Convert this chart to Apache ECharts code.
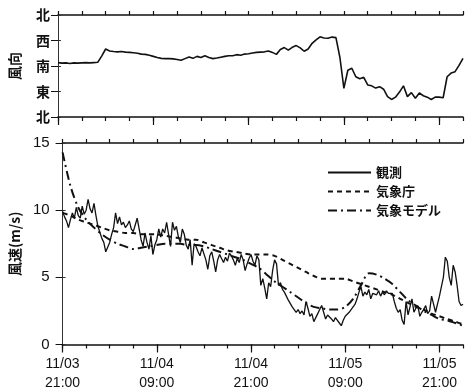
<!DOCTYPE html>
<html><head><meta charset="utf-8">
<script src="https://cdn.jsdelivr.net/npm/echarts@6/dist/echarts.min.js"></script>
<style>html,body{margin:0;padding:0;background:#fff}#c{width:468px;height:390px}</style>
</head><body><div id="c"></div>
<script>
// time axis: hours since 11/03 21:00
const xTickDates = {0:'11/03', 12:'11/04', 24:'11/04', 36:'11/05', 48:'11/05'};
const xTickTimes = {0:'21:00', 12:'09:00', 24:'21:00', 36:'09:00', 48:'21:00'};
const dirLabels = {0:'北', 90:'東', 180:'南', 270:'西', 360:'北'};
const seriesNames = ['観測', '気象庁', '気象モデル'];
const obsStep = 0.25, dirStep = 0.5, modelStep = 1;

// observed wind direction (deg), every 0.5 h
const obsDir = [
 192,190, 191,189, 191,190, 191,192, 191,192, 193,215, 240,233, 231,230, 231,229, 228,227,
 225,222, 221,218, 214,210, 207,206, 206,205, 203,200, 206,212, 207,214, 210,216, 210,206,
 208,211, 214,216, 216,220, 218,222, 223,226, 228,229, 230,233, 228,221, 238,245, 236,246,
 252,244, 232,240, 260,272, 283,279, 278,282, 280,210, 101,165, 172,142, 135,140, 113,110,
 102,107, 98,72, 62,70, 88,110, 72,86, 66,85, 75,70, 62,70, 70,68, 142,155, 160,182, 207
];

// observed wind speed (m/s), every 0.25 h
const obsSpeed = [
 9.9,9.5,9.2,8.7, 9.3,9.8,9.4,10.2, 9.6,9.4,10.3,9.7, 10.0,10.8,10.1,9.8, 10.5,9.6,8.8,8.9,
 7.9,7.6,6.9,7.0, 7.6,8.2,8.7,9.8, 9.0,9.5,8.9,9.1, 8.7,8.9,9.2,8.6, 8.4,8.9,9.4,8.6,
 7.8,7.3,8.3,7.6, 7.1,8.1,6.7,7.4, 7.8,8.6,8.0,8.6, 8.3,9.1,8.2,7.3, 9.1,8.5,8.8,8.0,
 7.6,8.6,8.2,7.4, 7.1,7.8,5.9,7.5, 7.3,6.9,6.6,7.2, 7.1,6.3,5.6,6.6, 6.9,6.2,5.4,6.3,
 6.7,6.4,6.1,6.5, 6.2,6.8,6.6,6.3, 5.9,6.4,6.1,6.7, 6.3,5.5,6.0,6.4, 6.7,6.2,5.9,6.6,
 6.3,4.4,4.9,4.2, 3.4,4.6,4.3,5.5, 6.3,6.0,4.4,4.6, 4.1,3.9,3.6,3.3, 3.2,2.8,2.6,2.4,
 2.6,2.3,2.5,2.2, 3.2,2.7,2.1,2.3, 1.7,2.0,2.3,2.6, 2.9,2.4,1.9,2.2, 2.3,1.9,1.7,2.0,
 2.1,1.6,1.4,1.8, 2.1,2.0,2.4,2.6, 2.8,3.0,3.4,3.9, 4.3,3.6,3.9,3.7, 4.1,3.4,3.8,3.9,
 3.7,4.0,3.6,3.9, 3.7,4.0,3.8,3.9, 3.8,3.2,2.7,2.4, 2.6,1.8,1.5,3.2, 2.2,2.8,3.4,2.4,
 2.7,2.9,2.1,2.4, 2.6,2.9,2.3,2.5, 3.6,3.0,2.4,3.0, 3.6,4.3,5.0,6.5, 6.2,5.0,4.4,5.9,
 5.4,4.4,3.2,2.9, 3.0
];

// 気象庁 forecast (m/s), hourly
const jmaSpeed = [
 9.8,9.6,9.3,9.1,8.9,8.7,8.5,8.4,8.3,8.3, 8.2,8.2,8.2,8.1,8.0,7.9,7.8,7.8,7.6,7.4,
 7.2,7.0,6.9,6.8,6.7,6.7,6.7,6.6,6.3,6.0, 5.7,5.4,5.1,4.9,4.9,4.9,4.9,4.7,4.5,4.3,
 4.1,3.9,3.7,3.4,3.1,2.8,2.6,2.3,2.1,1.9, 1.7,1.5
];

// 気象モデル (m/s), hourly
const modelSpeed = [
 14.3,11.8,10.2,9.3,8.7,8.2,7.8,7.5,7.3,7.1, 7.2,7.3,7.4,7.5,7.5,7.5,7.4,7.4,7.3,7.1,
 6.9,6.7,6.5,6.3,6.0,5.7,5.2,4.7,4.3,3.9, 3.5,3.1,2.8,2.7,2.6,2.6,2.8,3.4,4.4,5.3,
 5.2,4.9,4.5,3.9,3.3,2.9,2.5,2.2,1.9,1.8, 1.6,1.4
];

const toPairs = (arr, step) => arr.map((v, i) => [i * step, v]);
const FONT = '"Liberation Sans", Arial, "Noto Sans CJK JP", sans-serif';
const CJK = '"Noto Sans CJK JP", sans-serif';

function xAx(grid, pos, interval, tickLen, showLine, labels) {
  return {
    type: 'value', gridIndex: grid, position: pos, min: 0, max: 51, interval: interval,
    axisLine: {show: showLine, onZero: false, lineStyle: {color: '#111', width: 1.5}},
    axisTick: {show: true, inside: false, length: tickLen, lineStyle: {color: '#111', width: 1.2},
               customValues: interval === 12 ? [0, 12, 24, 36, 48] : undefined},
    splitLine: {show: false},
    axisLabel: labels ? {
      show: true, margin: 10, color: '#111',
      formatter: v => xTickDates[v] !== undefined ? '{a|' + xTickDates[v] + '}\n{a|' + xTickTimes[v] + '}' : '',
      rich: {a: {fontSize: 14, lineHeight: 19, fontFamily: FONT, color: '#111'}}
    } : {show: false}
  };
}

const chart = echarts.init(document.getElementById('c'), null, {renderer: 'canvas'});
chart.setOption({
  animation: false,
  backgroundColor: '#fff',
  grid: [
    {left: 55, top: 15, width: 408, height: 102},
    {left: 55, top: 143, width: 408, height: 203}
  ],
  legend: {
    orient: 'vertical', left: 322, top: 161, itemWidth: 43, itemHeight: 14, itemGap: 6,
    itemStyle: {opacity: 0},
    textStyle: {fontSize: 13, fontWeight: 'bold', color: '#111', fontFamily: CJK},
    data: seriesNames
  },
  xAxis: [
    xAx(0, 'bottom', 3, 4, true, false),
    xAx(0, 'top', 3, 4, true, false),
    xAx(0, 'bottom', 12, 8, false, false),
    xAx(1, 'bottom', 3, 4, true, true),
    xAx(1, 'top', 3, 4, true, false),
    xAx(1, 'bottom', 12, 8, false, false)
  ],
  yAxis: [
    {type: 'value', gridIndex: 0, position: 'left', min: 0, max: 360, interval: 90,
     name: '風向', nameLocation: 'middle', nameGap: 36,
     nameTextStyle: {fontSize: 14, fontWeight: 'bold', color: '#111', fontFamily: CJK},
     axisLine: {show: true, lineStyle: {color: '#777', width: 1, type: 'dotted'}},
     axisTick: {show: true, length: 7, lineStyle: {color: '#111'}},
     splitLine: {show: false},
     axisLabel: {margin: 8, fontSize: 14, fontWeight: 'bold', color: '#111', fontFamily: CJK,
                 formatter: v => dirLabels[v] || ''}},
    {type: 'value', gridIndex: 0, position: 'right', min: 0, max: 360, interval: 90,
     axisLine: {show: true, lineStyle: {color: '#333', width: 1}},
     axisTick: {show: true, length: 3, lineStyle: {color: '#333'}},
     splitLine: {show: false}, axisLabel: {show: false}},
    {type: 'value', gridIndex: 1, position: 'left', min: 0, max: 15, interval: 5,
     name: '風速(m/s)', nameLocation: 'middle', nameGap: 36,
     nameTextStyle: {fontSize: 14, fontWeight: 'bold', color: '#111', fontFamily: CJK},
     axisLine: {show: true, lineStyle: {color: '#777', width: 1, type: 'dotted'}},
     axisTick: {show: true, length: 7, lineStyle: {color: '#111'}},
     splitLine: {show: false},
     axisLabel: {margin: 13, fontSize: 15, color: '#111', fontFamily: FONT}},
    {type: 'value', gridIndex: 1, position: 'right', min: 0, max: 15, interval: 5,
     axisLine: {show: true, lineStyle: {color: '#333', width: 1}},
     axisTick: {show: true, length: 3, lineStyle: {color: '#333'}},
     splitLine: {show: false}, axisLabel: {show: false}}
  ],
  series: [
    {name: 'dir', type: 'line', xAxisIndex: 0, yAxisIndex: 0, showSymbol: false, symbol: 'none',
     data: toPairs(obsDir, dirStep), lineStyle: {color: '#111', width: 1.6}},
    {name: seriesNames[0], type: 'line', xAxisIndex: 3, yAxisIndex: 2, showSymbol: false, symbol: 'none',
     data: toPairs(obsSpeed, obsStep), lineStyle: {color: '#111', width: 1.3}, itemStyle: {color: '#111'}},
    {name: seriesNames[1], type: 'line', xAxisIndex: 3, yAxisIndex: 2, showSymbol: false, symbol: 'none',
     smooth: 0.3, data: toPairs(jmaSpeed, modelStep),
     lineStyle: {color: '#111', width: 2, type: [5, 4]}, itemStyle: {color: '#111'}},
    {name: seriesNames[2], type: 'line', xAxisIndex: 3, yAxisIndex: 2, showSymbol: false, symbol: 'none',
     smooth: 0.3, data: toPairs(modelSpeed, modelStep),
     lineStyle: {color: '#111', width: 2, type: [9, 4, 2, 4]}, itemStyle: {color: '#111'}}
  ]
});
</script></body></html>
